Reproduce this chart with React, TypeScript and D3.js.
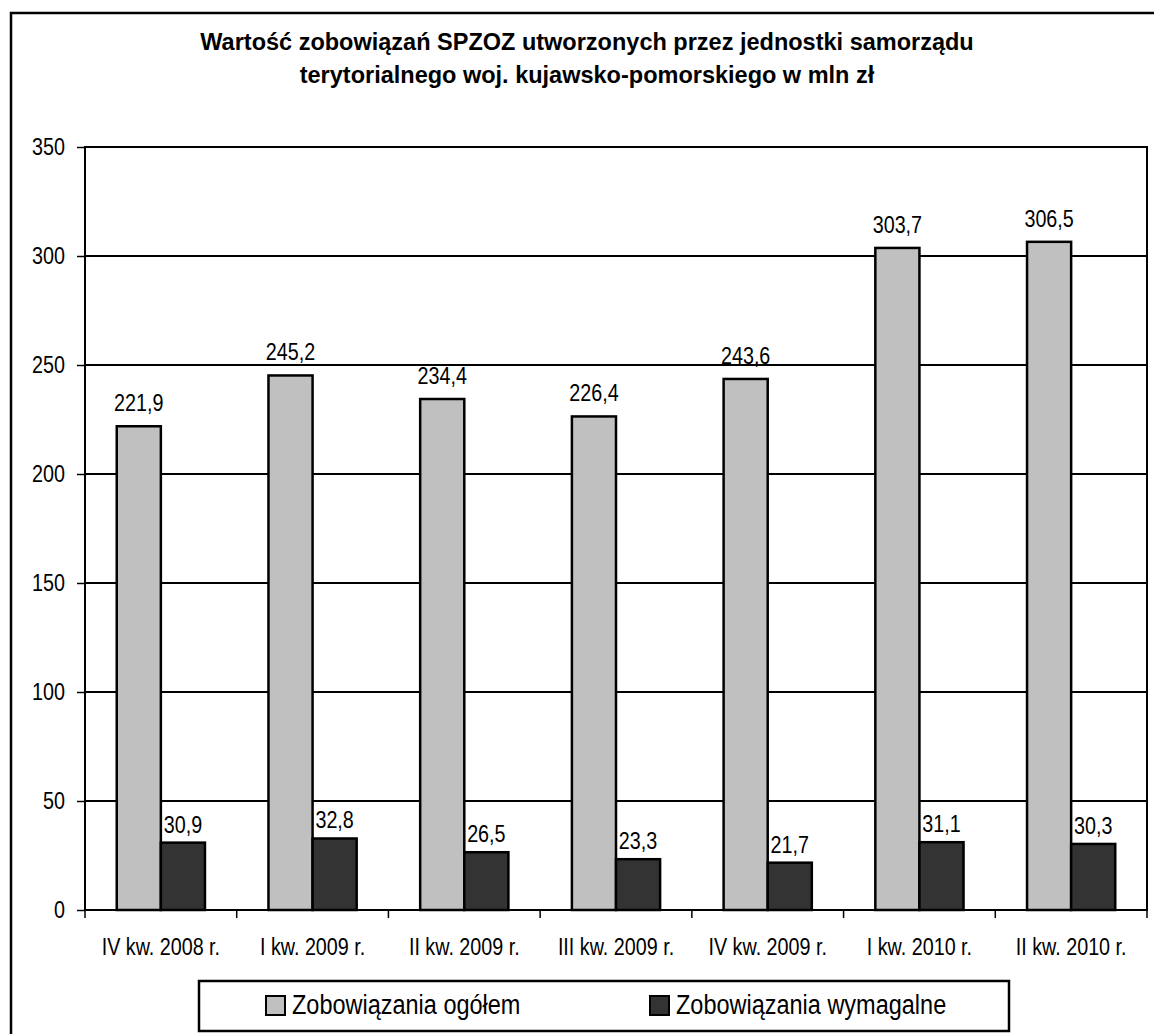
import { useEffect, useRef } from 'react'
import * as d3 from 'd3'

const categories = [
  'IV kw. 2008 r.',
  'I kw. 2009 r.',
  'II kw. 2009 r.',
  'III kw. 2009 r.',
  'IV kw. 2009 r.',
  'I kw. 2010 r.',
  'II kw. 2010 r.',
]
const seriesNames = ['Zobowiązania ogółem', 'Zobowiązania wymagalne']
const ogolem = [221.9, 245.2, 234.4, 226.4, 243.6, 303.7, 306.5]
const wymagalne = [30.9, 32.8, 26.5, 23.3, 21.7, 31.1, 30.3]
const yTicks = [0, 50, 100, 150, 200, 250, 300, 350]
const titleLines = [
  'Wartość zobowiązań SPZOZ utworzonych przez jednostki samorządu',
  'terytorialnego woj. kujawsko-pomorskiego w mln zł',
]

const colors = ['#c0c0c0', '#333333']
const font = '"Liberation Sans", Arial, sans-serif'
const squeeze = 0.84 // the source font is narrower than Arial
const labelSize = '23.5px'
const W = 1154
const H = 1034

export default function App() {
  const svgRef = useRef<SVGSVGElement>(null)

  useEffect(() => {
    if (!svgRef.current) return
    const svg = d3.select(svgRef.current)
    svg.selectAll('*').remove()

    const plot = { left: 85, right: 1147, top: 147, bottom: 910 }

    // outer frame (runs past the picture edge on the right and bottom)
    svg.append('rect')
      .attr('x', 11).attr('y', 13)
      .attr('width', W).attr('height', H)
      .attr('fill', '#fff')
      .attr('stroke', '#000').attr('stroke-width', 2.5)

    // title
    svg.append('text')
      .attr('text-anchor', 'middle')
      .style('font-family', font)
      .style('font-weight', 'bold')
      .style('font-size', '23.5px')
      .selectAll('tspan')
      .data(titleLines)
      .enter().append('tspan')
      .attr('x', 587)
      .attr('y', (_d, i) => 50 + i * 33)
      .text(d => d)

    const x = d3.scaleBand<string>()
      .domain(categories)
      .range([plot.left, plot.right])
      .padding(0)

    const xs = d3.scaleBand<string>()
      .domain(seriesNames)
      .range([0, x.bandwidth()])
      .paddingInner(0)
      .paddingOuter(0.72)

    const y = d3.scaleLinear().domain([0, 350]).range([plot.bottom, plot.top])

    const g = svg.append('g')

    // gridlines
    g.selectAll('.grid')
      .data(yTicks)
      .enter().append('line')
      .attr('x1', plot.left).attr('x2', plot.right)
      .attr('y1', d => y(d)).attr('y2', d => y(d))
      .attr('stroke', '#000').attr('stroke-width', 2)

    // plot border
    g.append('rect')
      .attr('x', plot.left).attr('y', plot.top)
      .attr('width', plot.right - plot.left).attr('height', plot.bottom - plot.top)
      .attr('fill', 'none')
      .attr('stroke', '#000').attr('stroke-width', 2)

    // y axis
    const yAxis = g.append('g')
      .attr('transform', `translate(${plot.left},0)`)
      .call(d3.axisLeft(y).tickValues(yTicks).tickSize(8).tickPadding(11).tickFormat(d3.format('d')))
    yAxis.select('.domain').remove()
    yAxis.selectAll('.tick line').attr('stroke', '#000').attr('stroke-width', 1.5)
    yAxis.selectAll('text')
      .attr('x', -20 / squeeze)
      .attr('transform', `scale(${squeeze},1)`)
      .style('font-family', font)
      .style('font-size', labelSize)
      .attr('fill', '#000')

    // x axis
    const xAxis = g.append('g')
      .attr('transform', `translate(0,${plot.bottom})`)
      .call(d3.axisBottom(x).tickSize(0).tickPadding(28))
    xAxis.select('.domain').remove()
    xAxis.selectAll('text')
      .attr('transform', `scale(${squeeze},1)`)
      .style('font-family', font)
      .style('font-size', labelSize)
      .attr('fill', '#000')
    g.selectAll('.xtick')
      .data(d3.range(categories.length + 1))
      .enter().append('line')
      .attr('x1', i => plot.left + i * x.step())
      .attr('x2', i => plot.left + i * x.step())
      .attr('y1', plot.bottom).attr('y2', plot.bottom + 8)
      .attr('stroke', '#000').attr('stroke-width', 1.5)

    const seriesData = [ogolem, wymagalne]
    const labelGap = [15, 10]

    seriesData.forEach((vals, si) => {
      const name = seriesNames[si]
      const cx = (i: number) => (x(categories[i]) ?? 0) + (xs(name) ?? 0)
      g.selectAll(`.bar-${si}`)
        .data(vals)
        .enter().append('rect')
        .attr('x', (_d, i) => cx(i))
        .attr('y', d => y(d))
        .attr('width', xs.bandwidth())
        .attr('height', d => y(0) - y(d))
        .attr('fill', colors[si])
        .attr('stroke', '#000').attr('stroke-width', 2.5)

      g.selectAll(`.lbl-${si}`)
        .data(vals)
        .enter().append('g')
        .attr('transform', (d, i) => `translate(${cx(i) + xs.bandwidth() / 2},${y(d) - labelGap[si]})`)
        .append('text')
        .attr('transform', `scale(${squeeze},1)`)
        .attr('text-anchor', 'middle')
        .style('font-family', font)
        .style('font-size', labelSize)
        .text(d => d3.format('.1f')(d).replace('.', ','))
    })

    // legend
    const legend = svg.append('g')
    legend.append('rect')
      .attr('x', 199).attr('y', 981)
      .attr('width', 810).attr('height', 50)
      .attr('fill', '#fff')
      .attr('stroke', '#000').attr('stroke-width', 2.5)
    const legendX = [266, 650]
    seriesNames.forEach((name, i) => {
      legend.append('rect')
        .attr('x', legendX[i]).attr('y', 996)
        .attr('width', 19).attr('height', 19)
        .attr('fill', colors[i])
        .attr('stroke', '#000').attr('stroke-width', 2)
      legend.append('g')
        .attr('transform', `translate(${legendX[i] + 26},1014)`)
        .append('text')
        .attr('transform', 'scale(0.87,1)')
        .style('font-family', font)
        .style('font-size', '27px')
        .text(name)
    })
  }, [])

  return (
    <svg
      ref={svgRef}
      width={W}
      height={H}
      style={{ position: 'absolute', left: 0, top: 0, background: '#fff' }}
    />
  )
}
